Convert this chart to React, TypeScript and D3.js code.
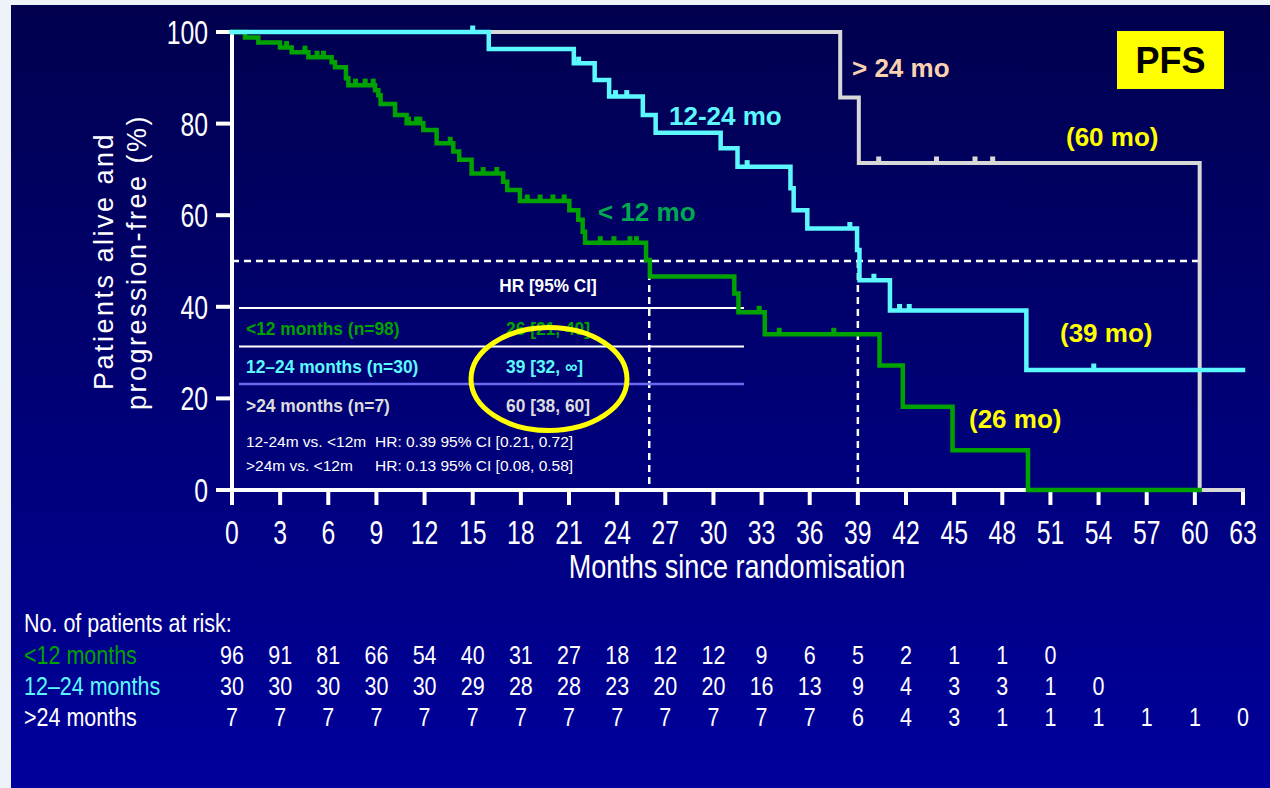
import React from "react";
import * as d3 from "d3";

// ---------- data ----------
// Kaplan–Meier steps: [month, % alive and progression-free]
const under12Steps: [number, number][] = [
  [0, 100], [0.81, 98.8], [1.64, 97.7], [2.99, 96.6], [3.72, 95.6], [4.76, 94.5],
  [6.21, 93.4], [6.42, 92.3], [7.1, 89.9], [7.25, 88.4], [8.91, 87.3], [9.12, 86.2],
  [9.26, 84.3], [10.16, 81.9], [10.88, 80.1], [11.92, 78.6], [12.75, 75.7], [13.79, 73.9],
  [14.16, 72.1], [14.93, 69.1], [16.9, 67.3], [17.15, 65.5], [17.94, 63.1], [21.02, 61.1],
  [21.58, 59.0], [21.85, 56.4], [22.0, 54.0], [25.8, 50.2], [26.04, 46.6], [31.3, 42.9],
  [31.56, 38.8], [33.2, 34.0], [40.35, 27.2], [41.8, 18.2], [44.9, 8.7], [49.6, 0],
];
const under12End = 60.3;
const under12Censor = [3.4, 4.55, 5.3, 5.7, 7.7, 8.3, 8.8, 11.0, 11.5, 11.7, 13.6, 15.65, 16.5,
  18.4, 19.2, 20.0, 20.7, 22.95, 23.8, 24.8, 25.2, 32.85, 34.1, 37.5];

const mid12to24Steps: [number, number][] = [
  [0, 100], [16.0, 96.3], [21.3, 93.2], [22.6, 89.5], [23.5, 85.9], [25.6, 81.9],
  [26.4, 78.0], [30.45, 74.6], [31.5, 70.6], [34.8, 65.9], [35.0, 61.1], [35.85, 57.1],
  [38.95, 52.4], [39.1, 45.8], [41.0, 39.2], [49.5, 26.2],
];
const mid12to24End = 63;
const mid12to24Censor = [15.0, 21.6, 23.9, 24.6, 32.1, 38.5, 40.0, 41.6, 42.2, 53.7];

const over24Steps: [number, number][] = [
  [0, 100], [37.9, 85.7], [39.06, 71.4], [60.3, 0],
];
const over24End = 63;
const over24Censor = [40.3, 43.9, 46.3, 47.4];

const medians = [26, 39];
const medianLevel = 50;
const medianLineEnd = 60.3;

const xTicks = d3.range(0, 64, 3);
const yTicks = [0, 20, 40, 60, 80, 100];

const riskUnder12 = [96, 91, 81, 66, 54, 40, 31, 27, 18, 12, 12, 9, 6, 5, 2, 1, 1, 0];
const risk12to24 = [30, 30, 30, 30, 30, 29, 28, 28, 23, 20, 20, 16, 13, 9, 4, 3, 3, 1, 0];
const riskOver24 = [7, 7, 7, 7, 7, 7, 7, 7, 7, 7, 7, 7, 7, 6, 4, 3, 1, 1, 1, 1, 1, 0];

const groupNames = ["<12 months", "12\u201324 months", ">24 months"];
const tableRows = ["<12 months (n=98)", "12\u201324 months (n=30)", ">24 months (n=7)"];
const tableHR = ["26 [21, 40]", "39 [32, \u221e]", "60 [38, 60]"];
const comparisons = [
  ["12-24m vs. <12m", "HR: 0.39 95% CI [0.21, 0.72]"],
  [">24m vs. <12m", "HR: 0.13 95% CI [0.08, 0.58]"],
];

// ---------- style ----------
const GREEN = "#00a200";
const GREEN_LABEL = "#00a850";
const CYAN = "#5cf8ff";
const GREY = "#d8d8d8";
const PEACH = "#fbd2b0";
const YELLOW = "#ffff00";
const SANS = "'Liberation Sans', Arial, sans-serif";

const x = d3.scaleLinear().domain([0, 63]).range([232, 1243]);
const y = d3.scaleLinear().domain([0, 100]).range([490, 32]);

const stepLine = d3
  .line<[number, number]>()
  .x((d) => x(d[0]))
  .y((d) => y(d[1]))
  .curve(d3.curveStepAfter);

function pathFor(steps: [number, number][], end: number) {
  const pts = [...steps, [end, steps[steps.length - 1][1]] as [number, number]];
  return stepLine(pts) || "";
}

function levelAt(steps: [number, number][], t: number) {
  let v = steps[0][1];
  for (const [m, s] of steps) if (m <= t) v = s;
  return v;
}

// Horizontally condensed text (narrow face look)
function NText({ x, y, sx = 0.82, anchor = "start", children, ...rest }: any) {
  return (
    <text transform={`translate(${x},${y}) scale(${sx},1)`} textAnchor={anchor} {...rest}>
      {children}
    </text>
  );
}

function Curve({ steps, end, censor, color, width }: {
  steps: [number, number][]; end: number; censor: number[]; color: string; width: number;
}) {
  return (
    <g>
      <path d={pathFor(steps, end)} fill="none" stroke={color} strokeWidth={width} strokeLinejoin="miter" strokeLinecap="square" />
      {censor.map((c, i) => {
        const cy = y(levelAt(steps, c));
        return <rect key={i} x={x(c) - 2.5} y={cy - 6.5} width={5} height={6} fill={color} />;
      })}
    </g>
  );
}

export default function App() {
  const riskRows = [riskUnder12, risk12to24, riskOver24];
  const riskColors = [GREEN, CYAN, "#ffffff"];
  const rowColors = [GREEN, CYAN, "#dcdcdc"];
  return (
    <div style={{ position: "absolute", left: 0, top: 0 }}>
      <svg width={1270} height={788} style={{ display: "block" }} fontFamily={SANS}>
        <defs>
          <linearGradient id="bg" x1="0" y1="0" x2="0" y2="1">
            <stop offset="0" stopColor="#00004e" />
            <stop offset="1" stopColor="#00009c" />
          </linearGradient>
        </defs>
        <rect x={0} y={0} width={1270} height={788} fill="#eef2f9" />
        <rect x={11} y={5} width={1259} height={783} fill="url(#bg)" />

        {/* median reference lines */}
        <g stroke="#ffffff" strokeWidth={2.5} strokeDasharray="7 5">
          <line x1={x(0)} x2={x(medianLineEnd)} y1={y(medianLevel)} y2={y(medianLevel)} />
          {medians.map((m) => (
            <line key={m} x1={x(m)} x2={x(m)} y1={y(medianLevel)} y2={y(0)} />
          ))}
        </g>

        {/* hazard ratio table */}
        <g>
          <NText x={548} y={292} sx={0.93} anchor="middle" fill="#ffffff" fontWeight="bold" fontSize={18.5}>HR [95% CI]</NText>
          <line x1={239} x2={744} y1={308} y2={308} stroke="#ffffff" strokeWidth={2} />
          <line x1={239} x2={744} y1={346.5} y2={346.5} stroke="#ffffff" strokeWidth={2} />
          <line x1={239} x2={744} y1={384} y2={384} stroke="#6a6af0" strokeWidth={2.5} />
          {tableRows.map((t, i) => (
            <g key={t} fill={rowColors[i]} fontWeight="bold" fontSize={18.5}>
              <NText x={246} y={335 + i * 38.3} sx={0.94}>{t}</NText>
              <NText x={506} y={335 + i * 38.3} sx={0.94}>{tableHR[i]}</NText>
            </g>
          ))}
          {comparisons.map((c, i) => (
            <g key={i} fill="#ffffff" fontSize={15.5}>
              <text x={246} y={447 + i * 23.5}>{c[0]}</text>
              <text x={375} y={447 + i * 23.5}>{c[1]}</text>
            </g>
          ))}
        </g>
        <ellipse cx={549} cy={379} rx={78} ry={51.5} fill="none" stroke={YELLOW} strokeWidth={5} />

        {/* axes */}
        <g stroke="#ffffff" strokeWidth={4}>
          <line x1={x(0)} x2={x(63) + 2} y1={y(0)} y2={y(0)} />
          <line x1={x(0)} x2={x(0)} y1={y(0) + 2} y2={y(100)} />
          {xTicks.map((t) => (
            <line key={"xt" + t} x1={x(t)} x2={x(t)} y1={y(0)} y2={y(0) + 15} />
          ))}
          {yTicks.map((t) => (
            <line key={"yt" + t} x1={x(0) - 16} x2={x(0)} y1={y(t)} y2={y(t)} />
          ))}
        </g>
        <g fill="#ffffff" fontSize={33}>
          {xTicks.map((t) => (
            <NText key={"xl" + t} x={x(t)} y={544} sx={0.75} anchor="middle">{t}</NText>
          ))}
          {yTicks.map((t) => (
            <NText key={"yl" + t} x={208} y={y(t) + 12} sx={0.75} anchor="end">{t}</NText>
          ))}
          <NText x={737} y={578} sx={0.82} anchor="middle">Months since randomisation</NText>
        </g>
        <g fill="#ffffff" fontSize={27} letterSpacing={2.5} textAnchor="middle">
          <text transform={`translate(113,261) rotate(-90)`}>Patients alive and</text>
          <text transform={`translate(146,262) rotate(-90)`}>progression-free (%)</text>
        </g>

        {/* survival curves */}
        <Curve steps={over24Steps} end={over24End} censor={over24Censor} color={GREY} width={4} />
        <Curve steps={under12Steps} end={under12End} censor={under12Censor} color={GREEN} width={4.5} />
        <Curve steps={mid12to24Steps} end={mid12to24End} censor={mid12to24Censor} color={CYAN} width={4.5} />

        {/* curve labels */}
        <g fontWeight="bold" fontSize={26}>
          <text x={852} y={77} fill={PEACH}>&gt; 24 mo</text>
          <text x={669} y={125} fill={CYAN}>12-24 mo</text>
          <text x={598} y={221} fill={GREEN_LABEL}>&lt; 12 mo</text>
          <text x={1066} y={146} fill={YELLOW}>(60 mo)</text>
          <text x={1060} y={342} fill={YELLOW}>(39 mo)</text>
          <text x={969} y={428} fill={YELLOW}>(26 mo)</text>
        </g>

        {/* PFS tag */}
        <rect x={1117} y={31} width={107} height={58} fill={YELLOW} />
        <text x={1170.5} y={73} textAnchor="middle" fontWeight="bold" fontSize={36} fill="#000000">PFS</text>

        {/* numbers at risk */}
        <g fontSize={25}>
          <NText x={24} y={632} sx={0.86} fill="#ffffff">No. of patients at risk:</NText>
          {groupNames.map((g, i) => (
            <NText key={g} x={24} y={664 + i * 31} sx={0.86} fill={riskColors[i]}>{g}</NText>
          ))}
          {riskRows.map((row, i) =>
            row.map((v, j) => (
              <NText key={i + "-" + j} x={x(j * 3)} y={664 + i * 31} sx={0.86} fill="#ffffff" anchor="middle">{v}</NText>
            ))
          )}
        </g>
      </svg>
    </div>
  );
}
